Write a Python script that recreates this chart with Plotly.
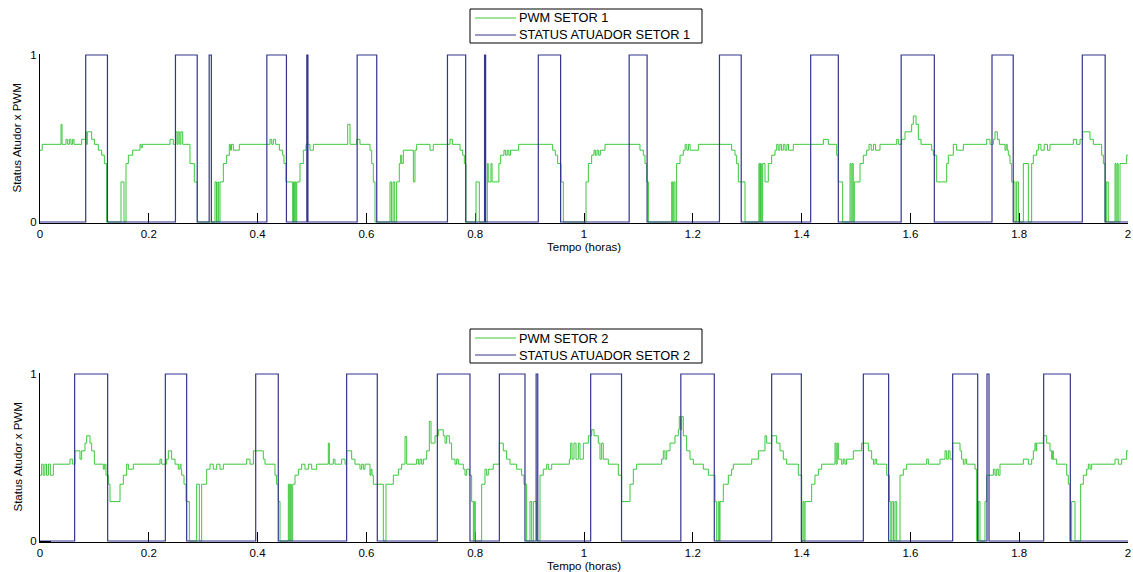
import plotly.graph_objects as go

# ---------------- data ----------------
x_ticks = [0, 0.2, 0.4, 0.6, 0.8, 1.0, 1.2, 1.4, 1.6, 1.8, 2.0]
x_tick_labels = ["0", "0.2", "0.4", "0.6", "0.8", "1", "1.2", "1.4", "1.6", "1.8", "2"]
y_ticks = [0, 1]
y_tick_labels = ["0", "1"]

# Status atuador setor 1 : (on, off) times in hours
status1_on = [0.084, 0.249, 0.311, 0.417, 0.4905, 0.583, 0.749, 0.8172, 0.916, 1.083, 1.249, 1.4167, 1.583, 1.750, 1.916]
status1_off = [0.124, 0.289, 0.315, 0.453, 0.4925, 0.619, 0.7825, 0.8192, 0.957, 1.116, 1.289, 1.4675, 1.644, 1.789, 1.958]

# Status atuador setor 2
status2_on = [0.0637, 0.2304, 0.3965, 0.5637, 0.7304, 0.8444, 0.912, 1.0123, 1.178, 1.345, 1.5135, 1.6777, 1.7408, 1.845]
status2_off = [0.1244, 0.2696, 0.438, 0.620, 0.7904, 0.8915, 0.915, 1.069, 1.2395, 1.3995, 1.560, 1.7237, 1.7445, 1.894]

# PWM setor 1 (step signal: value holds from time until next time)
pwm1_t = [0.000, 0.004, 0.0386, 0.0405, 0.0478, 0.051, 0.054, 0.057, 0.060, 0.0625, 0.0766, 0.0839, 0.085, 0.087,
          0.095, 0.0999, 0.1072, 0.1134, 0.1183, 0.1225, 0.1489, 0.1544, 0.1581, 0.1624, 0.1703, 0.1838, 0.186,
          0.188, 0.239, 0.2451, 0.2494, 0.252, 0.254, 0.257, 0.259, 0.2623, 0.2757, 0.2837, 0.2892,
          0.3217, 0.3245, 0.327, 0.3285, 0.3309, 0.337, 0.3431, 0.348, 0.350, 0.352, 0.3554, 0.3664,
          0.4228, 0.426, 0.429, 0.4332, 0.440, 0.4461, 0.4485, 0.4522, 0.4645, 0.466, 0.4675, 0.469, 0.4705, 0.472,
          0.4779, 0.4841, 0.489, 0.4963, 0.5025, 0.5656, 0.5699, 0.5821, 0.5882, 0.6066, 0.6097, 0.6127, 0.6158,
          0.6434, 0.646, 0.649, 0.652, 0.6556, 0.6605, 0.663, 0.665, 0.6679, 0.6863, 0.6893, 0.6924, 0.7169, 0.723,
          0.7537, 0.758, 0.7721, 0.777, 0.780, 0.7831,
          0.8015, 0.8076, 0.8223, 0.824, 0.829, 0.831, 0.8435, 0.8468, 0.8529, 0.856, 0.859, 0.862, 0.865, 0.8799,
          0.9424, 0.9473, 0.9516, 0.9577, 0.962,
          1.0037, 1.008, 1.0141, 1.0184, 1.021, 1.024, 1.027, 1.030, 1.0386, 1.1029, 1.1091, 1.1121, 1.1152, 1.1183,
          1.1612, 1.163, 1.165, 1.1673, 1.1703, 1.1765, 1.1826, 1.186, 1.189, 1.192, 1.195, 1.2102,
          1.2714, 1.2776, 1.2806, 1.2837, 1.296,
          1.3215, 1.323, 1.3245, 1.326, 1.3284, 1.3327, 1.3388, 1.345, 1.3511, 1.3542, 1.357, 1.360, 1.363, 1.3664,
          1.3695, 1.373, 1.376, 1.3848, 1.440, 1.4491, 1.4645, 1.4675, 1.4755,
          1.489, 1.491, 1.493, 1.495, 1.4969, 1.5074, 1.5135, 1.5196, 1.524, 1.528, 1.532, 1.536, 1.5441,
          1.5748, 1.5778, 1.5839, 1.5901, 1.6023, 1.6054, 1.6103, 1.6146, 1.6195, 1.6391, 1.6422, 1.6483,
          1.6667, 1.6697, 1.6789, 1.685, 1.6973, 1.7402, 1.7463, 1.7525, 1.7555, 1.7598, 1.7635, 1.7739, 1.776,
          1.778, 1.780, 1.7831, 1.7862, 1.7923, 1.7953, 1.7985,
          1.8076, 1.8168, 1.8229, 1.826, 1.8321, 1.8352, 1.840, 1.846, 1.852, 1.8566, 1.8995, 1.9056, 1.9118,
          1.9167, 1.9301, 1.9363, 1.9516, 1.9547, 1.9577, 1.9608, 1.9638, 1.9761, 1.978, 1.980, 1.982, 1.9853,
          1.9975, 2.0]
pwm1_v = [0.43, 0.465, 0.585, 0.465, 0.495, 0.465, 0.495, 0.465, 0.495, 0.465, 0.495, 0.54, 0.465, 0.54,
          0.495, 0.465, 0.43, 0.40, 0.35, 0.0, 0.24, 0.0, 0.35, 0.40, 0.43, 0.465, 0.445,
          0.465, 0.495, 0.465, 0.54, 0.465, 0.54, 0.465, 0.54, 0.465, 0.35, 0.24, 0.0,
          0.24, 0.0, 0.24, 0.0, 0.24, 0.35, 0.40, 0.465, 0.43, 0.465, 0.43, 0.465,
          0.495, 0.465, 0.495, 0.465, 0.43, 0.40, 0.35, 0.24, 0.0, 0.24, 0.0, 0.24, 0.0, 0.24,
          0.35, 0.43, 0.465, 0.43, 0.465, 0.585, 0.465, 0.495, 0.465, 0.43, 0.35, 0.24, 0.0,
          0.24, 0.0, 0.24, 0.0, 0.24, 0.35, 0.40, 0.35, 0.43, 0.24, 0.43, 0.465, 0.43, 0.465,
          0.495, 0.465, 0.43, 0.40, 0.35, 0.0,
          0.24, 0.0, 0.35, 0.24, 0.35, 0.24, 0.35, 0.40, 0.43, 0.40, 0.43, 0.40, 0.43, 0.465,
          0.43, 0.40, 0.35, 0.24, 0.0,
          0.24, 0.35, 0.40, 0.43, 0.40, 0.43, 0.40, 0.43, 0.465, 0.43, 0.40, 0.35, 0.24, 0.0,
          0.24, 0.0, 0.24, 0.0, 0.35, 0.40, 0.43, 0.465, 0.43, 0.465, 0.43, 0.465,
          0.43, 0.40, 0.35, 0.24, 0.0,
          0.35, 0.0, 0.35, 0.0, 0.35, 0.24, 0.35, 0.40, 0.43, 0.465, 0.43, 0.465, 0.43, 0.465,
          0.43, 0.465, 0.43, 0.465, 0.495, 0.465, 0.40, 0.24, 0.0,
          0.35, 0.0, 0.35, 0.0, 0.24, 0.35, 0.40, 0.43, 0.465, 0.43, 0.465, 0.43, 0.465,
          0.495, 0.465, 0.495, 0.54, 0.585, 0.635, 0.585, 0.495, 0.465, 0.43, 0.40, 0.24,
          0.35, 0.40, 0.465, 0.43, 0.465, 0.495, 0.465, 0.495, 0.54, 0.495, 0.465, 0.43, 0.465,
          0.43, 0.40, 0.35, 0.24, 0.0, 0.24, 0.0,
          0.35, 0.0, 0.35, 0.40, 0.43, 0.465, 0.43, 0.465, 0.43, 0.465, 0.495, 0.465, 0.495,
          0.54, 0.495, 0.465, 0.40, 0.35, 0.0, 0.24, 0.0, 0.35, 0.0, 0.35, 0.0, 0.35,
          0.40, 0.40]

# PWM setor 2
pwm2_t = [0.000, 0.003, 0.006, 0.009, 0.012, 0.0155, 0.019, 0.0245, 0.0551, 0.060, 0.0643, 0.0735, 0.0766,
          0.0827, 0.0858, 0.0919, 0.095, 0.0999, 0.1164, 0.1189, 0.1213, 0.1256, 0.1287, 0.1471, 0.1532,
          0.1593, 0.1624, 0.1716, 0.2206, 0.2237, 0.2328, 0.2359, 0.242, 0.2482, 0.2543, 0.2574, 0.2592,
          0.2604, 0.2647, 0.2684, 0.2745, 0.288, 0.2929, 0.2972, 0.3064, 0.3125, 0.3186, 0.3248, 0.3309,
          0.337, 0.3799, 0.386, 0.3922, 0.4105, 0.4136, 0.432, 0.435, 0.4381, 0.4412, 0.4565, 0.4583, 0.4602,
          0.462, 0.4645, 0.4688, 0.4749, 0.481, 0.4871, 0.4933, 0.4994, 0.5086, 0.530, 0.5319, 0.5392,
          0.5423, 0.5545, 0.5607, 0.5637, 0.5729, 0.579, 0.5882, 0.5913, 0.5944, 0.5974, 0.6066, 0.6085,
          0.6103, 0.6127, 0.6311, 0.636, 0.6495, 0.6587, 0.6648, 0.671, 0.674, 0.6924, 0.6955, 0.6985,
          0.7016, 0.7047, 0.7108, 0.7157, 0.7188, 0.7261, 0.7322, 0.7414, 0.7445, 0.7476, 0.7525, 0.7567,
          0.7629, 0.7659, 0.769, 0.7782, 0.7813, 0.7843, 0.7892, 0.7935, 0.7966, 0.7984, 0.8002, 0.8119,
          0.818, 0.8211, 0.8241, 0.8333, 0.8444, 0.8517, 0.8578, 0.864, 0.8762, 0.8854, 0.8897, 0.8946,
          0.9007, 0.9038, 0.9069, 0.913, 0.9191, 0.9252, 0.9314, 0.9344, 0.9406, 0.9731, 0.9755, 0.978,
          0.9816, 0.9853, 0.9896, 0.9926, 0.9988, 1.008, 1.0141, 1.0184, 1.0263, 1.0294, 1.0325, 1.0355,
          1.0447, 1.0631, 1.0692, 1.0846, 1.0907, 1.0968, 1.1428, 1.1458, 1.1489, 1.152, 1.1581, 1.1673,
          1.1734, 1.1752, 1.1777, 1.1795, 1.1826, 1.1887, 1.1949, 1.201, 1.2194, 1.2286, 1.2408, 1.2439,
          1.2469, 1.2488, 1.250, 1.2561, 1.2653, 1.2714, 1.2745, 1.3082, 1.3205, 1.3327, 1.3358, 1.345,
          1.3542, 1.3603, 1.3664, 1.3725, 1.394, 1.4002, 1.4025, 1.4045, 1.4063, 1.4185, 1.4246, 1.4308,
          1.4369, 1.4614, 1.4635, 1.4655, 1.4675, 1.4737, 1.4767, 1.4798, 1.4828, 1.4951, 1.5104, 1.5227,
          1.5288, 1.532, 1.535, 1.538, 1.5564, 1.5613, 1.564, 1.566, 1.569, 1.5717, 1.5748, 1.5809, 1.587,
          1.5931, 1.6299, 1.633, 1.6544, 1.6636, 1.6667, 1.6697, 1.6728, 1.6777, 1.6912, 1.6942, 1.6973,
          1.7004, 1.7034, 1.7188, 1.7218, 1.7249, 1.7279, 1.7371, 1.7402, 1.7525, 1.7555, 1.7586, 1.7616,
          1.7647, 1.8076, 1.8168, 1.8229, 1.826, 1.829, 1.8309, 1.8321, 1.8444, 1.8505, 1.8566, 1.8597,
          1.8615, 1.8627, 1.8689, 1.8873, 1.8903, 1.8934, 1.8964, 1.9026, 1.913, 1.9179, 1.924, 1.9271,
          1.9301, 1.9332, 1.9761, 1.9822, 1.9884, 1.9975, 2.0]
pwm2_v = [0.394, 0.46, 0.394, 0.46, 0.394, 0.46, 0.394, 0.46, 0.49, 0.46, 0.54, 0.49, 0.54,
          0.586, 0.63, 0.586, 0.54, 0.46, 0.43, 0.46, 0.394, 0.34, 0.236, 0.34, 0.394,
          0.46, 0.43, 0.46, 0.49, 0.46, 0.49, 0.54, 0.49, 0.46, 0.43, 0.46, 0.43,
          0.394, 0.34, 0.236, 0.0, 0.34, 0.0, 0.34, 0.43, 0.46, 0.43, 0.46, 0.43,
          0.46, 0.49, 0.46, 0.54, 0.49, 0.46, 0.394, 0.34, 0.236, 0.0, 0.34, 0.0, 0.34,
          0.0, 0.34, 0.394, 0.43, 0.46, 0.43, 0.46, 0.43, 0.46, 0.586, 0.46, 0.49,
          0.46, 0.49, 0.46, 0.54, 0.49, 0.46, 0.43, 0.46, 0.43, 0.46, 0.394, 0.43,
          0.394, 0.34, 0.0, 0.34, 0.394, 0.43, 0.46, 0.626, 0.46, 0.49, 0.46, 0.49,
          0.46, 0.49, 0.54, 0.716, 0.586, 0.63, 0.666, 0.63, 0.586, 0.63, 0.586, 0.49,
          0.46, 0.49, 0.46, 0.43, 0.394, 0.43, 0.394, 0.236, 0.0, 0.236, 0.0, 0.34,
          0.43, 0.394, 0.43, 0.46, 0.586, 0.54, 0.49, 0.46, 0.43, 0.394, 0.34, 0.0,
          0.236, 0.0, 0.236, 0.0, 0.394, 0.43, 0.46, 0.43, 0.46, 0.49, 0.586, 0.49,
          0.586, 0.49, 0.586, 0.49, 0.586, 0.63, 0.666, 0.63, 0.586, 0.49, 0.586, 0.49,
          0.46, 0.394, 0.236, 0.34, 0.43, 0.46, 0.49, 0.54, 0.49, 0.54, 0.586, 0.63,
          0.666, 0.746, 0.666, 0.746, 0.63, 0.54, 0.49, 0.46, 0.43, 0.394, 0.236, 0.0,
          0.236, 0.0, 0.236, 0.34, 0.394, 0.43, 0.46, 0.49, 0.54, 0.63, 0.586, 0.63,
          0.586, 0.54, 0.49, 0.46, 0.394, 0.0, 0.236, 0.0, 0.236, 0.34, 0.394, 0.43,
          0.46, 0.586, 0.46, 0.586, 0.49, 0.46, 0.49, 0.46, 0.49, 0.54, 0.586, 0.54,
          0.49, 0.46, 0.49, 0.46, 0.394, 0.236, 0.0, 0.236, 0.0, 0.236, 0.0, 0.394, 0.43,
          0.46, 0.49, 0.46, 0.49, 0.54, 0.49, 0.54, 0.49, 0.586, 0.54, 0.49, 0.46,
          0.49, 0.46, 0.43, 0.0, 0.236, 0.0, 0.236, 0.394, 0.43, 0.394, 0.43, 0.394,
          0.46, 0.49, 0.46, 0.49, 0.54, 0.586, 0.54, 0.586, 0.63, 0.586, 0.54, 0.49,
          0.54, 0.49, 0.46, 0.394, 0.34, 0.0, 0.236, 0.0, 0.34, 0.394, 0.43, 0.46,
          0.43, 0.46, 0.49, 0.46, 0.49, 0.54, 0.54]

series_names = ["PWM SETOR 1", "STATUS ATUADOR SETOR 1", "PWM SETOR 2", "STATUS ATUADOR SETOR 2"]
x_title = "Tempo (horas)"
y_title = "Status Atudor x PWM"


def status_steps(on, off, t_end=2.0):
    xs, ys = [0.0], [0.0]
    for a, b in zip(on, off):
        xs += [a, a, b, b]
        ys += [0, 1, 1, 0]
    xs.append(t_end)
    ys.append(0)
    return xs, ys


GREEN = "#3cc83c"
BLUE = "#35358f"
FONT = "Liberation Sans, Arial, sans-serif"
W, H = 1133, 572

fig = go.Figure()

s1x, s1y = status_steps(status1_on, status1_off)
s2x, s2y = status_steps(status2_on, status2_off)

fig.add_trace(go.Scatter(x=pwm1_t, y=pwm1_v, mode="lines", line=dict(color=GREEN, width=1, shape="hv"),
                         name=series_names[0], xaxis="x", yaxis="y", showlegend=False))
fig.add_trace(go.Scatter(x=s1x, y=s1y, mode="lines", line=dict(color=BLUE, width=1.2),
                         name=series_names[1], xaxis="x", yaxis="y", showlegend=False))
fig.add_trace(go.Scatter(x=pwm2_t, y=pwm2_v, mode="lines", line=dict(color=GREEN, width=1, shape="hv"),
                         name=series_names[2], xaxis="x2", yaxis="y2", showlegend=False))
fig.add_trace(go.Scatter(x=s2x, y=s2y, mode="lines", line=dict(color=BLUE, width=1.2),
                         name=series_names[3], xaxis="x2", yaxis="y2", showlegend=False))

xdom = [40 / W, 1128 / W]
ydom1 = [1 - 223 / H, 1 - 54 / H]
ydom2 = [1 - 542 / H, 1 - 373 / H]
yr = [-0.006, 1.006]

xcommon = dict(range=[0, 2], domain=xdom, tickvals=x_ticks, ticktext=x_tick_labels, ticks="inside",
               ticklen=10, tickcolor="black", tickwidth=1, showline=True, linecolor="black", linewidth=1,
               layer="below traces", showgrid=False, zeroline=False, fixedrange=True, automargin=False,
               tickfont=dict(family=FONT, size=11.5, color="black"))
ycommon = dict(range=yr, tickvals=y_ticks, ticktext=y_tick_labels, ticks="inside", ticklen=11,
               tickcolor="black", tickwidth=1, showline=True, linecolor="black", linewidth=1,
               showgrid=False, zeroline=False, fixedrange=True, automargin=False,
               tickfont=dict(family=FONT, size=11.5, color="black"))


# ---- hand-drawn legends (box, sample lines, labels) in pixel -> paper coordinates ----
def px_x(p):
    return p / W


def px_y(p):
    return 1 - p / H


shapes = []
annotations = []
legend_specs = [
    # (box top, box bottom, row1 y, row2 y, names, colors)
    (9, 43, 18, 35, series_names[0:2], [GREEN, BLUE]),
    (329, 363, 338, 355, series_names[2:4], [GREEN, BLUE]),
]
for top, bottom, r1, r2, names, colors in legend_specs:
    shapes.append(dict(type="rect", xref="paper", yref="paper", x0=px_x(470), x1=px_x(702),
                       y0=px_y(bottom), y1=px_y(top), line=dict(color="black", width=1),
                       fillcolor="white", layer="above"))
    for ry, nm, col in zip([r1, r2], names, colors):
        shapes.append(dict(type="line", xref="paper", yref="paper", x0=px_x(475), x1=px_x(516),
                           y0=px_y(ry), y1=px_y(ry), line=dict(color=col, width=1), layer="above"))
        annotations.append(dict(text=nm, x=px_x(517), xref="paper", y=px_y(ry), yref="paper",
                                showarrow=False, xanchor="left", yanchor="middle",
                                font=dict(family=FONT, size=12.8, color="black")))

for xa, ya, ydom in [("x", "y", ydom1), ("x2", "y2", ydom2)]:
    annotations.append(dict(text=x_title, x=1.0, xref=xa, y=ydom[0] - 24 / H, yref="paper", showarrow=False,
                            xanchor="center", yanchor="middle",
                            font=dict(family=FONT, size=11.5, color="black")))
    annotations.append(dict(text=y_title, x=17 / W, xref="paper", y=0.5, yref=ya + " domain", showarrow=False,
                            textangle=-90, xanchor="center", yanchor="middle",
                            font=dict(family=FONT, size=11.5, color="black")))

fig.update_layout(
    width=W, height=H, autosize=False,
    margin=dict(l=0, r=0, t=0, b=0, pad=0),
    paper_bgcolor="white", plot_bgcolor="white",
    xaxis=dict(anchor="y", **xcommon),
    yaxis=dict(anchor="x", domain=ydom1, **ycommon),
    xaxis2=dict(anchor="y2", **xcommon),
    yaxis2=dict(anchor="x2", domain=ydom2, **ycommon),
    showlegend=False,
    hovermode=False,
    shapes=shapes,
    annotations=annotations,
)

fig.write_html("out.html",
               config={"displayModeBar": False, "staticPlot": True},
               post_script="document.body.style.margin='0px';document.body.style.padding='0px';"
                           "document.body.style.overflow='hidden';")
